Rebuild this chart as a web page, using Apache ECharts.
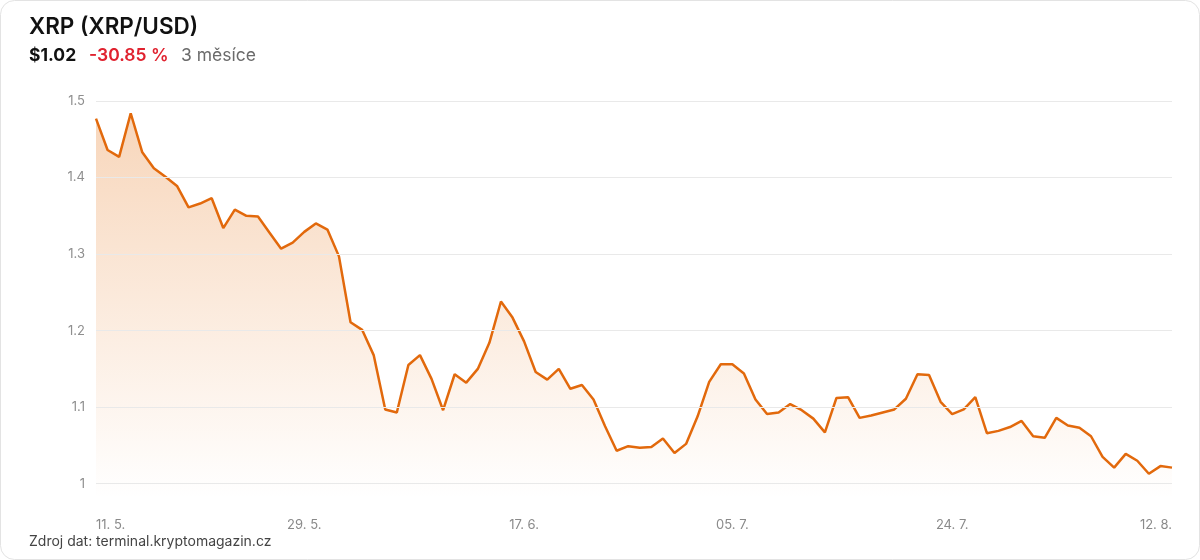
<!DOCTYPE html>
<html>
<head>
<meta charset="utf-8">
<title>XRP (XRP/USD)</title>
<script src="https://cdn.jsdelivr.net/npm/echarts@6/dist/echarts.min.js"></script>
<style>
  html, body { margin: 0; padding: 0; background: #fff; }
  #chart { width: 1200px; height: 560px; }
</style>
</head>
<body>
<div id="chart"></div>
<script>
// dny (11. 5. - 12. 8.)
var dates = [
  '11. 5.', '12. 5.', '13. 5.', '14. 5.', '15. 5.', '16. 5.', '17. 5.', '18. 5.', '19. 5.', '20. 5.',
  '21. 5.', '22. 5.', '23. 5.', '24. 5.', '25. 5.', '26. 5.', '27. 5.', '28. 5.', '29. 5.', '30. 5.', '31. 5.',
  '01. 6.', '02. 6.', '03. 6.', '04. 6.', '05. 6.', '06. 6.', '07. 6.', '08. 6.', '09. 6.', '10. 6.',
  '11. 6.', '12. 6.', '13. 6.', '14. 6.', '15. 6.', '16. 6.', '17. 6.', '18. 6.', '19. 6.', '20. 6.',
  '21. 6.', '22. 6.', '23. 6.', '24. 6.', '25. 6.', '26. 6.', '27. 6.', '28. 6.', '29. 6.', '30. 6.',
  '01. 7.', '02. 7.', '03. 7.', '04. 7.', '05. 7.', '06. 7.', '07. 7.', '08. 7.', '09. 7.', '10. 7.',
  '11. 7.', '12. 7.', '13. 7.', '14. 7.', '15. 7.', '16. 7.', '17. 7.', '18. 7.', '19. 7.', '20. 7.',
  '21. 7.', '22. 7.', '23. 7.', '24. 7.', '25. 7.', '26. 7.', '27. 7.', '28. 7.', '29. 7.', '30. 7.', '31. 7.',
  '01. 8.', '02. 8.', '03. 8.', '04. 8.', '05. 8.', '06. 8.', '07. 8.', '08. 8.', '09. 8.', '10. 8.',
  '11. 8.', '12. 8.'
];

// cena XRP v USD
var prices = [
  1.477, 1.436, 1.427, 1.484, 1.433, 1.412, 1.401, 1.389, 1.361, 1.366,
  1.373, 1.334, 1.358, 1.350, 1.349, 1.328, 1.307, 1.315, 1.329, 1.340,
  1.332, 1.297, 1.211, 1.201, 1.168, 1.097, 1.093, 1.155, 1.168, 1.137,
  1.096, 1.143, 1.132, 1.150, 1.184, 1.238, 1.217, 1.186, 1.146, 1.136,
  1.150, 1.124, 1.129, 1.110, 1.075, 1.043, 1.049, 1.047, 1.048, 1.059,
  1.040, 1.052, 1.088, 1.133, 1.156, 1.156, 1.144, 1.110, 1.091, 1.093,
  1.104, 1.096, 1.085, 1.067, 1.112, 1.113, 1.086, 1.089, 1.093, 1.097,
  1.111, 1.143, 1.142, 1.107, 1.091, 1.097, 1.113, 1.066, 1.069, 1.074,
  1.082, 1.062, 1.060, 1.086, 1.076, 1.073, 1.062, 1.035, 1.021, 1.039,
  1.030, 1.013, 1.023, 1.021
];

var xLabelIdx = [0, 18, 37, 55, 74, 93];
var yTicks = [1, 1.1, 1.2, 1.3, 1.4, 1.5];

var lineColor = '#e2690c';
var font = 'Inter, "Noto Sans", sans-serif';

var myChart = echarts.init(document.getElementById('chart'));
var option = {
  animation: false,
  backgroundColor: '#fff',
  textStyle: { fontFamily: font },
  graphic: [
    {
      type: 'rect',
      shape: { x: 0.5, y: 0.5, width: 1199, height: 559, r: 14 },
      style: { fill: 'none', stroke: '#e3e3e3', lineWidth: 1 },
      silent: true
    },
    {
      type: 'text', left: 29, top: 16,
      style: { text: 'XRP (XRP/USD)', font: '600 22.5px ' + font, fill: '#111' }
    },
    {
      type: 'text', left: 29, top: 47,
      style: { text: '$1.02', font: '700 17.5px ' + font, fill: '#111' }
    },
    {
      type: 'text', left: 89, top: 47,
      style: { text: '-30.85 %', font: '600 17.5px ' + font, fill: '#e0222f' }
    },
    {
      type: 'text', left: 181, top: 47,
      style: { text: '3 měsíce', font: '400 17.5px ' + font, fill: '#6b6b6b' }
    },
    {
      type: 'text', left: 29, top: 535,
      style: { text: 'Zdroj dat: terminal.kryptomagazin.cz', font: '14px ' + font, fill: '#444' }
    }
  ],
  grid: { left: 96, right: 28, top: 101, bottom: 61 },
  xAxis: {
    type: 'category',
    boundaryGap: false,
    data: dates,
    axisLine: { show: false },
    axisTick: { show: false },
    axisLabel: {
      color: '#8a8a8a',
      fontSize: 13,
      margin: 20,
      alignMinLabel: 'left',
      alignMaxLabel: 'right',
      interval: function(i) { return xLabelIdx.indexOf(i) > -1; }
    }
  },
  yAxis: {
    type: 'value',
    min: 0.98,
    max: 1.5,
    splitLine: { show: false },
    axisLine: { show: false },
    axisTick: { show: false },
    axisLabel: {
      customValues: yTicks,
      color: '#8f8f8f',
      fontSize: 13,
      margin: 11,
      formatter: function(v) { return v === 1 ? '1' : v.toFixed(1); }
    }
  },
  series: [{
    type: 'line',
    data: prices,
    symbol: 'none',
    lineStyle: { color: lineColor, width: 2.5 },
    areaStyle: {
      color: new echarts.graphic.LinearGradient(0, 0, 0, 1, [
        { offset: 0, color: 'rgba(228,108,10,0.4)' },
        { offset: 1, color: 'rgba(228,108,10,0.0)' }
      ])
    },
    markLine: {
      silent: true,
      symbol: ['none', 'none'],
      label: { show: false },
      lineStyle: { color: '#e9e9e9', type: 'solid', width: 1 },
      data: yTicks.map(function(v) { return { yAxis: v }; })
    }
  }]
};
myChart.setOption(option);
</script>
</body>
</html>
